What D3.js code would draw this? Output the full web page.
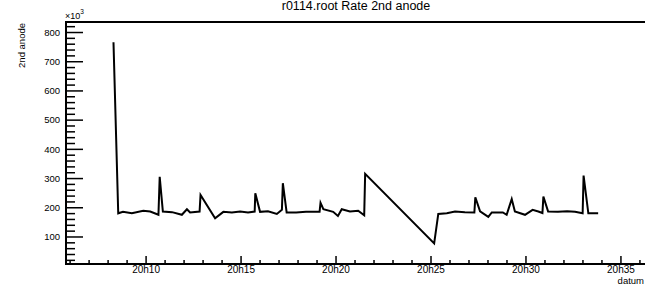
<!DOCTYPE html>
<html>
<head>
<meta charset="utf-8">
<script src="https://cdn.jsdelivr.net/npm/d3@7"></script>
<style>
  body { margin: 0; background: #fff; }
  svg { display: block; font-family: "Liberation Sans", Arial, sans-serif; }
</style>
</head>
<body>
<div id="chart"></div>
<script>
// Rate of 2nd anode vs time (values in units of 10^3)
const times = [
  "20:08:17", "20:08:32", "20:08:47", "20:09:15", "20:09:51", "20:10:13", "20:10:39", "20:10:43",
  "20:10:53", "20:11:22", "20:11:53", "20:12:09", "20:12:19", "20:12:49", "20:12:52", "20:13:38",
  "20:14:04", "20:14:31", "20:14:57", "20:15:22", "20:15:43", "20:15:45", "20:16:00", "20:16:25",
  "20:16:53", "20:17:09", "20:17:12", "20:17:24", "20:17:54", "20:18:25", "20:19:08", "20:19:11",
  "20:19:20", "20:19:51", "20:20:06", "20:20:18", "20:20:44", "20:21:10", "20:21:29", "20:21:32",
  "20:25:10", "20:25:23", "20:25:50", "20:26:16", "20:26:47", "20:27:17", "20:27:20", "20:27:35",
  "20:28:01", "20:28:12", "20:28:47", "20:28:59", "20:29:15", "20:29:25", "20:29:57", "20:30:21",
  "20:30:39", "20:30:52", "20:30:55", "20:31:10", "20:31:41", "20:32:10", "20:32:35", "20:32:59",
  "20:33:02", "20:33:17", "20:33:48"
];
const rates = [
  767, 181, 186, 181, 190, 187, 176, 306,
  187, 185, 176, 195, 184, 187, 244, 164,
  186, 184, 187, 184, 187, 250, 186, 188,
  179, 193, 284, 184, 184, 186, 186, 217,
  195, 186, 172, 195, 187, 190, 174, 316,
  78, 179, 181, 187, 185, 184, 236, 188,
  169, 184, 184, 176, 230, 187, 176, 193,
  187, 182, 238, 187, 186, 188, 186, 181,
  310, 181, 181
];
const yTicks = [100, 200, 300, 400, 500, 600, 700, 800];

const W = 645, H = 288;
const frame = { left: 66, right: 645, top: 22, bottom: 264 };

const parse = d3.utcParse("%H:%M:%S");
const data = times.map((t, i) => ({ t: parse(t), v: rates[i] }));

const svg = d3.select("#chart").append("svg")
  .attr("width", W).attr("height", H);

const x = d3.scaleUtc()
  .domain([parse("20:05:47"), parse("20:36:16")])
  .range([frame.left, frame.right]);

const y = d3.scaleLinear()
  .domain([7.5, 836])
  .range([frame.bottom, frame.top]);

// frame top line
svg.append("line")
  .attr("x1", frame.left).attr("x2", frame.right)
  .attr("y1", frame.top).attr("y2", frame.top)
  .attr("stroke", "#000").attr("stroke-width", 2);

// X axis: minor ticks every minute, major every 5
const xMinor = x.ticks(d3.utcMinute.every(1));
svg.append("g")
  .selectAll("line")
  .data(xMinor)
  .enter().append("line")
  .attr("x1", d => x(d)).attr("x2", d => x(d))
  .attr("y1", frame.bottom)
  .attr("y2", d => frame.bottom - (d.getUTCMinutes() % 5 === 0 ? 8 : 4))
  .attr("stroke", "#000").attr("stroke-width", 1.5);

svg.append("g")
  .selectAll("text")
  .data(x.ticks(d3.utcMinute.every(5)))
  .enter().append("text")
  .attr("x", d => x(d))
  .attr("y", 273)
  .attr("text-anchor", "middle")
  .style("font-size", "10px")
  .text(d3.utcFormat("%Hh%M"));

svg.append("line")
  .attr("x1", frame.left - 1).attr("x2", frame.right)
  .attr("y1", frame.bottom).attr("y2", frame.bottom)
  .attr("stroke", "#000").attr("stroke-width", 2);

// Y axis: minor ticks every 20, major every 100
const yMinor = d3.range(20, 836, 20);
svg.append("g")
  .selectAll("line")
  .data(yMinor)
  .enter().append("line")
  .attr("x1", frame.left)
  .attr("x2", d => frame.left + (d % 100 === 0 ? 17 : 9))
  .attr("y1", d => y(d)).attr("y2", d => y(d))
  .attr("stroke", "#000").attr("stroke-width", 1.5);

svg.append("g")
  .selectAll("text")
  .data(yTicks)
  .enter().append("text")
  .attr("x", 60)
  .attr("y", d => y(d))
  .attr("dy", "0.35em")
  .attr("text-anchor", "end")
  .style("font-size", "9.5px")
  .text(d => d);

svg.append("line")
  .attr("x1", frame.left).attr("x2", frame.left)
  .attr("y1", frame.top - 1).attr("y2", frame.bottom + 1)
  .attr("stroke", "#000").attr("stroke-width", 2);

// exponent
const expo = svg.append("text")
  .attr("x", 65).attr("y", 19)
  .style("font-size", "9px");
expo.append("tspan").text("\u00d710");
expo.append("tspan").attr("dy", -5).style("font-size", "6.5px").text("3");

// axis titles
svg.append("text")
  .attr("transform", `translate(25,23) rotate(-90)`)
  .attr("text-anchor", "end")
  .style("font-size", "9.5px")
  .text("2nd anode");

svg.append("text")
  .attr("x", 644).attr("y", 284)
  .attr("text-anchor", "end")
  .style("font-size", "9.5px")
  .text("datum");

// title
svg.append("text")
  .attr("x", 356).attr("y", 10)
  .attr("text-anchor", "middle")
  .style("font-size", "12.5px")
  .text("r0114.root Rate 2nd anode");

// data line
const line = d3.line()
  .x(d => x(d.t))
  .y(d => y(d.v));

svg.append("path")
  .datum(data)
  .attr("fill", "none")
  .attr("stroke", "#000")
  .attr("stroke-width", 2)
  .attr("stroke-linejoin", "miter")
  .attr("d", line);
</script>
</body>
</html>
